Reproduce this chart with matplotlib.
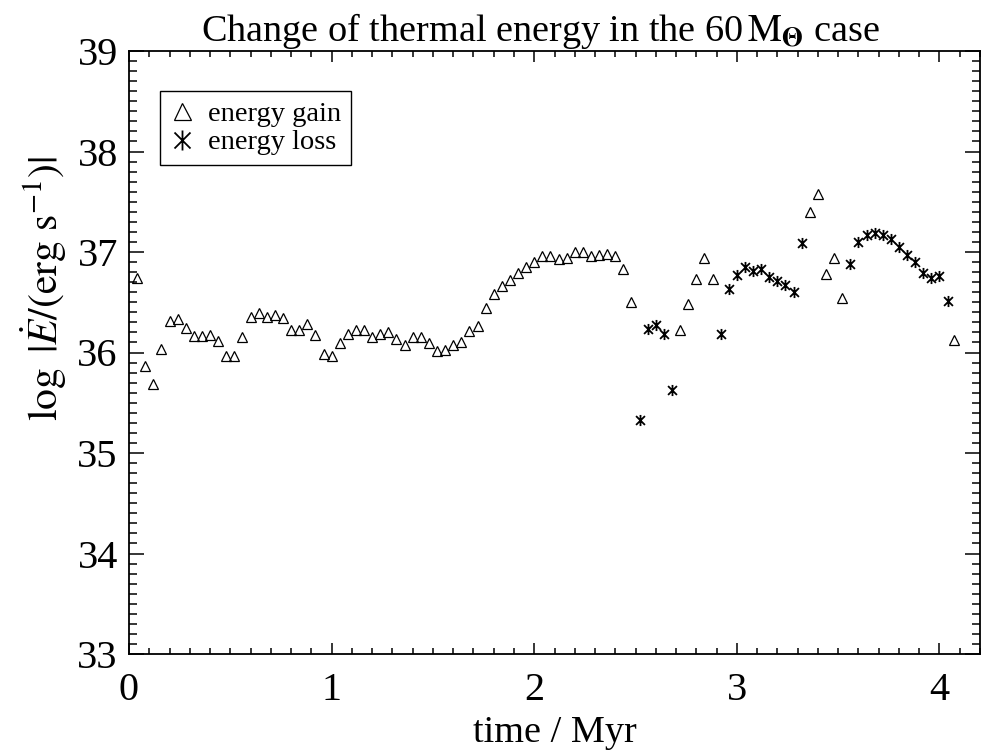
import matplotlib
matplotlib.use("Agg")
import matplotlib.pyplot as plt
from matplotlib.path import Path
from matplotlib.ticker import MultipleLocator

# energy gain (triangles)
gain_t = [0.04, 0.08, 0.12, 0.16, 0.20, 0.24, 0.28, 0.32, 0.36, 0.40,
          0.44, 0.48, 0.52, 0.56, 0.60, 0.64, 0.68, 0.72, 0.76, 0.80,
          0.84, 0.88, 0.92, 0.96, 1.00, 1.04, 1.08, 1.12, 1.16, 1.20,
          1.24, 1.28, 1.32, 1.36, 1.40, 1.44, 1.48, 1.52, 1.56, 1.60,
          1.64, 1.68, 1.72, 1.76, 1.80, 1.84, 1.88, 1.92, 1.96, 2.00,
          2.04, 2.08, 2.12, 2.16, 2.20, 2.24, 2.28, 2.32, 2.36, 2.40,
          2.44, 2.48, 2.72, 2.76, 2.80, 2.84, 2.88, 3.36, 3.40, 3.44,
          3.48, 3.52, 4.07]
gain_v = [36.74, 35.87, 35.69, 36.03, 36.31, 36.33, 36.24, 36.16, 36.16, 36.17,
          36.11, 35.97, 35.97, 36.15, 36.35, 36.39, 36.35, 36.37, 36.34, 36.22,
          36.22, 36.28, 36.17, 35.99, 35.97, 36.09, 36.18, 36.22, 36.22, 36.15,
          36.18, 36.20, 36.13, 36.07, 36.15, 36.15, 36.09, 36.01, 36.02, 36.07,
          36.10, 36.21, 36.26, 36.44, 36.58, 36.66, 36.72, 36.79, 36.85, 36.90,
          36.96, 36.96, 36.93, 36.94, 37.00, 37.00, 36.96, 36.97, 36.98, 36.96,
          36.83, 36.50, 36.22, 36.48, 36.73, 36.94, 36.73, 37.40, 37.58, 36.78,
          36.94, 36.54, 36.12]

# energy loss (asterisks)
loss_t = [2.52, 2.56, 2.60, 2.64, 2.68, 2.92, 2.96, 3.00, 3.04, 3.08,
          3.12, 3.16, 3.20, 3.24, 3.28, 3.32, 3.56, 3.60, 3.64, 3.68,
          3.72, 3.76, 3.80, 3.84, 3.88, 3.92, 3.96, 4.00, 4.04]
loss_v = [35.33, 36.23, 36.27, 36.18, 35.63, 36.18, 36.63, 36.77, 36.85, 36.81,
          36.83, 36.75, 36.71, 36.67, 36.60, 37.09, 36.88, 37.10, 37.17, 37.19,
          37.17, 37.13, 37.05, 36.97, 36.90, 36.79, 36.74, 36.76, 36.51]

plt.rcParams['font.family'] = ['Liberation Serif', 'DejaVu Serif']
plt.rcParams['mathtext.fontset'] = 'stix'

# IDL style asterisk: vertical bar plus an X
star = Path([(0, -1), (0, 1), (-0.8, -0.8), (0.8, 0.8), (-0.8, 0.8), (0.8, -0.8)],
            [Path.MOVETO, Path.LINETO] * 3)

fig = plt.figure(figsize=(9.81, 7.53), dpi=100)
ax = fig.add_axes([129/981, 1 - 654/753, 851/981, 603/753])

ax.plot(gain_t, gain_v, linestyle='none', marker='^', ms=6.8, mfc='none',
        mec='black', mew=0.9, label='energy gain')
ax.plot(loss_t, loss_v, linestyle='none', marker=star, ms=8, mfc='none',
        mec='black', mew=1.3, label='energy loss')

ax.set_xlim(0, 4.2)
ax.set_ylim(33, 39)
ax.xaxis.set_major_locator(MultipleLocator(1))
ax.xaxis.set_minor_locator(MultipleLocator(0.1))
ax.yaxis.set_major_locator(MultipleLocator(1))
ax.yaxis.set_minor_locator(MultipleLocator(0.1))

ax.tick_params(which='both', direction='in', top=True, right=True,
               labelsize=29, width=1.1)
ax.tick_params(axis='x', which='major', length=8, pad=13)
ax.tick_params(axis='x', which='minor', length=4)
ax.tick_params(axis='y', which='major', length=11, pad=8)
ax.tick_params(axis='y', which='minor', length=5.7)
for s in ax.spines.values():
    s.set_linewidth(1.3)

ax.set_title(r'Change of thermal energy in the 60$\,\mathrm{M}_{\mathbf{\Theta}}$ case',
             fontsize=27.5, pad=5, x=0.484)
ax.set_xlabel('time / Myr', fontsize=27.5, labelpad=5)
ax.set_ylabel(r'$\log\ |\dot{E}/(\mathrm{erg\ s^{-1}})|$', fontsize=30)
ax.yaxis.set_label_coords(-0.07, 0.607)

leg = ax.legend(loc='upper left', bbox_to_anchor=(0.036, 0.934), fontsize=20.5,
                fancybox=False, edgecolor='black', framealpha=1,
                borderaxespad=0, markerscale=1.8, handlelength=0.9,
                handletextpad=0.45, labelspacing=0.1, borderpad=0.35)
leg.get_frame().set_linewidth(1.0)

plt.savefig('out.png', dpi=100)
